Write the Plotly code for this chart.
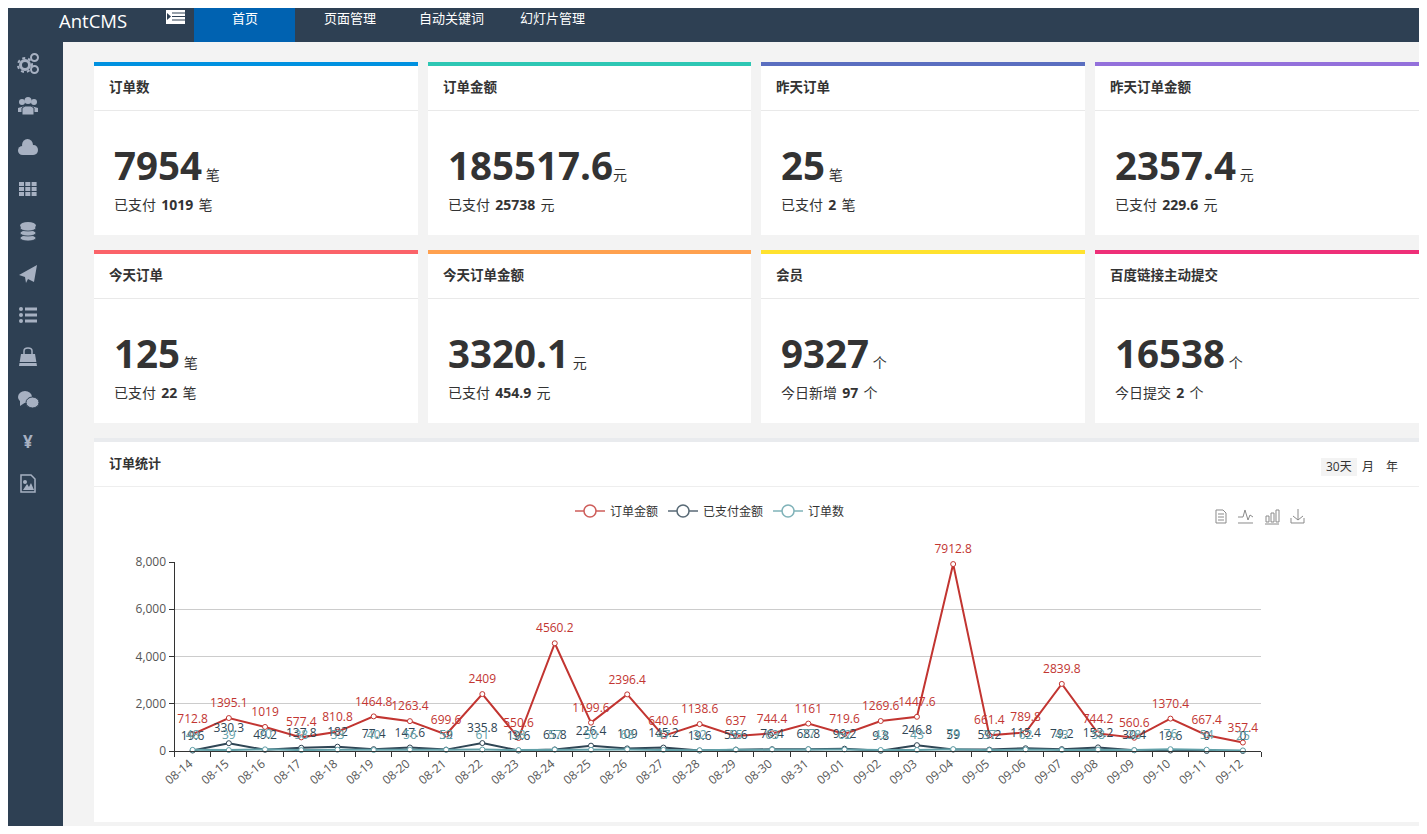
import re
import plotly.graph_objects as go

# the page keeps the browser's 8px body margin, so the figure fills 1411x818 from (8, 8)
W, H = 1411, 818
OFF = 8

# chart data
dates = ["08-14", "08-15", "08-16", "08-17", "08-18", "08-19", "08-20", "08-21", "08-22", "08-23",
         "08-24", "08-25", "08-26", "08-27", "08-28", "08-29", "08-30", "08-31", "09-01", "09-02",
         "09-03", "09-04", "09-05", "09-06", "09-07", "09-08", "09-09", "09-10", "09-11", "09-12"]
amount = [712.8, 1395.1, 1019, 577.4, 810.8, 1464.8, 1263.4, 699.6, 2409, 550.6,
          4560.2, 1199.6, 2396.4, 640.6, 1138.6, 637, 744.4, 1161, 719.6, 1269.6,
          1447.6, 7912.8, 661.4, 789.8, 2839.8, 744.2, 560.6, 1370.4, 667.4, 357.4]
paid = [19.6, 330.3, 49.2, 137.8, 182, 77.4, 147.6, 59, 335.8, 19.6,
        65.8, 226.4, 109, 145.2, 19.6, 59.6, 76.4, 68.8, 99.2, 9.8,
        246.8, 59, 59.2, 115.4, 79.2, 153.2, 30.4, 19.6, 0, 0]
orders = [48, 39, 70, 38, 53, 40, 56, 52, 61, 38,
          57, 50, 68, 47, 32, 55, 63, 77, 62, 43,
          43, 79, 37, 62, 43, 58, 38, 76, 54, 25]

# stat cards
card_titles = ["订单数", "订单金额", "昨天订单", "昨天订单金额", "今天订单", "今天订单金额", "会员", "百度链接主动提交"]
card_values = ["7954", "185517.6", "25", "2357.4", "125", "3320.1", "9327", "16538"]
card_units = [" 笔", "元", " 笔", " 元", " 笔", " 元", " 个", " 个"]
card_subs = ["已支付", "已支付", "已支付", "已支付", "已支付", "已支付", "今日新增", "今日提交"]
card_sub_values = ["1019", "25738", "2", "229.6", "22", "454.9", "97", "2"]
card_sub_units = ["笔", "元", "笔", "元", "笔", "元", "个", "个"]
card_colors = ["#0091e0", "#2ec7b4", "#5a6ec0", "#9370db", "#fb6369", "#ffa14f", "#ffe22e", "#ee2f78"]
nav_labels = ["首页", "页面管理", "自动关键词", "幻灯片管理"]
nav_x = [245, 350, 451, 552]

BAR = "#2e4053"
ICON = "#a7b1c2"
FONT = "Open Sans, Noto Sans CJK SC, sans-serif"
GAP = "<span style='font-size:20px'> </span>"
shapes = []
notes = []


def px(x):
    return (x - OFF) / W


def py(y):
    return 1 - (y - OFF) / H


def clamp(v):
    return max(0, min(1, v))


def rect(x0, y0, x1, y1, color):
    shapes.append(dict(type="rect", xref="paper", yref="paper", x0=clamp(px(x0)), x1=clamp(px(x1)),
                       y0=clamp(py(y0)), y1=clamp(py(y1)), fillcolor=color, line_width=0, layer="below"))


def oval(x0, y0, x1, y1, fill, line=None, lw=0, dash="solid"):
    shapes.append(dict(type="circle", xref="paper", yref="paper", x0=px(x0), x1=px(x1), y0=py(y0), y1=py(y1),
                       fillcolor=fill, line=dict(color=line or fill, width=lw, dash=dash), layer="below"))


def path(d, fill=None, line=None, lw=0):
    # d is written in screen pixels, convert the x y pairs to paper coordinates
    nums = iter(re.findall(r"[A-Z]|-?[\d.]+", d))
    out = []
    for tok in nums:
        if tok.isalpha():
            out.append(tok)
        else:
            out.append("%.5f,%.5f" % (px(float(tok)), py(float(next(nums)))))
    shapes.append(dict(type="path", xref="paper", yref="paper", path=" ".join(out),
                       fillcolor=fill or "rgba(0,0,0,0)", line=dict(color=line or "rgba(0,0,0,0)", width=lw),
                       layer="below"))


def text(x, y, s, size=12, color="#333", anchor="left"):
    notes.append(dict(xref="paper", yref="paper", x=px(x), y=py(y), text=s, showarrow=False, xanchor=anchor,
                      yanchor="middle", font=dict(size=size, color=color, family=FONT), borderpad=0, borderwidth=0))


# page frame
rect(0, 0, 1427, 834, "#f3f3f3")
rect(0, 0, 1427, 42, BAR)
rect(0, 0, 63, 834, BAR)
rect(194, 8, 295, 42, "#0062b1")
text(59, 21, "AntCMS", 18.5, "#ffffff")
for i, lab in enumerate(nav_labels):
    text(nav_x[i], 18, lab, 13, "#ffffff", "center")

# collapse icon in the top bar
rect(166, 10, 185, 24, "#ffffff")
for yy in (12.5, 16, 19.5):
    rect(172, yy, 185, yy + 1, BAR)
path("M 167 13 L 171 16.5 L 167 20 Z", BAR)

# sidebar icons
oval(18, 58, 32, 72, BAR, ICON, 2, "dot")
oval(20.5, 60.5, 29.5, 69.5, BAR, ICON, 3)
oval(31, 54, 38, 61, BAR, ICON, 2)
oval(31, 66, 38, 73, BAR, ICON, 2)
oval(19, 99, 25, 105, ICON)
oval(31, 99, 37, 105, ICON)
oval(24.5, 97, 31.5, 104, ICON)
path("M 18 112 L 18 108 L 25 106 L 31 106 L 38 108 L 38 112 Z", ICON)
path("M 22 115 L 22 108 L 25 106 L 31 106 L 34 108 L 34 115 Z", ICON, BAR, 1)
oval(18, 146, 27, 155, ICON)
oval(22, 139, 33, 151, ICON)
oval(29, 145, 38, 155, ICON)
rect(23, 149, 33, 155, ICON)
for r in range(3):
    for c in range(3):
        rect(19 + c * 6.3, 182 + r * 5, 24 + c * 6.3, 186 + r * 5, ICON)
for yy in (238, 233, 228):
    oval(20, yy - 3, 36, yy + 3, ICON, BAR, 0.8)
oval(20, 222, 36, 229, ICON)
path("M 19 275 L 37 265 L 34 282 L 28 279 L 26 283 L 25 277 Z", ICON)
for yy in (309, 315, 321):
    oval(19, yy - 2, 23, yy + 2, ICON)
    rect(25, yy - 1.5, 37, yy + 1.5, ICON)
path("M 19 366 L 21 354 L 35 354 L 37 366 Z", ICON)
path("M 24 354 L 24 351 C 24 347 32 347 32 351 L 32 354", None, ICON, 1.5)
rect(19, 362, 37, 363, BAR)
oval(18, 391, 32, 403, ICON)
path("M 20 400 L 20 406 L 26 402 Z", ICON)
oval(26, 397, 39, 408, ICON, BAR, 1)
text(28, 441, "<b>¥</b>", 17, ICON, "center")
path("M 21 475 L 31 475 L 35 479 L 35 492 L 21 492 Z", None, ICON, 1.5)
path("M 23 490 L 27 484 L 29 487 L 31 483 L 34 490 Z", ICON)
oval(23, 480, 27, 484, ICON)

# stat cards
col_x = [(94, 418), (428, 751), (761, 1085), (1095, 1419)]
row_y = [(62, 235), (250, 423)]
for i in range(8):
    x0, x1 = col_x[i % 4]
    y0, y1 = row_y[i // 4]
    rect(x0, y0, x1, y1, "#ffffff")
    rect(x0, y0, x1, y0 + 4, card_colors[i])
    rect(x0, y0 + 48, x1, y0 + 49, "#e9e9e9")
    text(x0 + 15, y0 + 25, "<b>%s</b>" % card_titles[i], 13.5, "#333")
    text(x0 + 20, y0 + 103,
         "<span style='font-size:38.5px;color:#333'><b>%s</b></span>%s" % (card_values[i], card_units[i]), 14, "#333")
    text(x0 + 20, y0 + 140.5,
         "%s%s<b>%s</b>%s%s" % (card_subs[i], GAP, card_sub_values[i], GAP, card_sub_units[i]), 14, "#333")

# chart panel
rect(94, 438, 1419, 822, "#ffffff")
rect(94, 438, 1419, 442, "#e9ebee")
rect(94, 486, 1419, 487, "#eeeeee")
text(109, 463, "<b>订单统计</b>", 13, "#333")
rect(1321, 458, 1357, 476, "#f3f3f3")
text(1339, 466, "30天", 12, "#333", "center")
text(1368, 466, "月", 12, "#333", "center")
text(1392, 466, "年", 12, "#333", "center")

# toolbox icons
TOOL = "#8a8a8a"
path("M 1216 510 L 1223 510 L 1226 513 L 1226 523 L 1216 523 Z", None, TOOL, 1)
for yy in (514, 517, 520):
    path("M 1218 %d L 1224 %d" % (yy, yy), None, TOOL, 1)
path("M 1238 517 L 1243 517 L 1245 510 L 1248 520 L 1250 515 L 1253 517", None, TOOL, 1)
path("M 1238 523 L 1253 523", None, TOOL, 1)
for xx in (1266, 1271, 1276):
    hh = {1266: 516, 1271: 513, 1276: 510}[xx]
    path("M %d 522 L %d %d L %d %d L %d 522 Z" % (xx, xx, hh, xx + 3, hh, xx + 3), None, TOOL, 1)
path("M 1265 524 L 1279 524", None, TOOL, 1)
path("M 1298 509 L 1298 520 M 1293 516 L 1298 520 L 1303 516", None, TOOL, 1)
path("M 1291 518 L 1291 523 L 1304 523 L 1304 518", None, TOOL, 1)

series = [("订单金额", amount, "#c23531"), ("已支付金额", paid, "#2f4554"), ("订单数", orders, "#61a0a8")]

fig = go.Figure()
for name, vals, color in series:
    fig.add_trace(go.Scatter(
        x=dates, y=vals, mode="lines+markers", name=name, showlegend=False,
        line=dict(color=color, width=2),
        marker=dict(symbol="circle", size=5, color="#ffffff", line=dict(color=color, width=1)),
        cliponaxis=False, hoverinfo="skip"))
# value labels sit on an invisible larger marker to lift them off the points
for name, vals, color in series:
    fig.add_trace(go.Scatter(
        x=dates, y=vals, mode="markers+text", name=name, showlegend=False,
        text=[str(v) for v in vals], textposition="top center", textfont=dict(size=12, color=color, family=FONT),
        marker=dict(symbol="circle", size=11, color="rgba(0,0,0,0)"),
        cliponaxis=False, hoverinfo="skip"))
# legend keys carry the larger open circles
for name, vals, color in series:
    fig.add_trace(go.Scatter(
        x=[dates[0]], y=[None], mode="lines+markers", name=name, opacity=0.8,
        line=dict(color=color, width=1.5),
        marker=dict(symbol="circle", size=12, color="#ffffff", line=dict(color=color, width=1.5))))

fig.update_layout(
    width=W, height=H, margin=dict(l=0, r=0, t=0, b=0, autoexpand=False), autosize=False,
    paper_bgcolor="#f3f3f3", plot_bgcolor="rgba(0,0,0,0)", font=dict(family=FONT, size=12, color="#555"),
    shapes=shapes, annotations=notes,
    legend=dict(orientation="h", x=px(710), xanchor="center", y=py(511), yanchor="middle",
                bgcolor="rgba(0,0,0,0)", font=dict(size=12, color="#333"), itemwidth=30, itemclick=False),
    xaxis=dict(domain=[px(174.5), px(1261)], type="category", categoryorder="array", categoryarray=dates,
               range=[-0.5, 29.5], tickson="boundaries", ticks="outside", ticklen=5, tickcolor="#333",
               showline=True, linecolor="#333", linewidth=1, showgrid=False, tickangle=-40,
               ticklabelshift=-3, tickfont=dict(size=12, color="#555"), zeroline=False),
    yaxis=dict(domain=[py(751), py(562)], range=[0, 8000], tickvals=[0, 2000, 4000, 6000, 8000], tickformat=",",
               ticks="outside", ticklen=5, tickcolor="#333", showline=True, linecolor="#333", linewidth=1,
               showgrid=True, gridcolor="#ccc", gridwidth=1, zeroline=False, tickfont=dict(size=12, color="#555")),
)

fig.write_html("out.html", config=dict(displayModeBar=False))
